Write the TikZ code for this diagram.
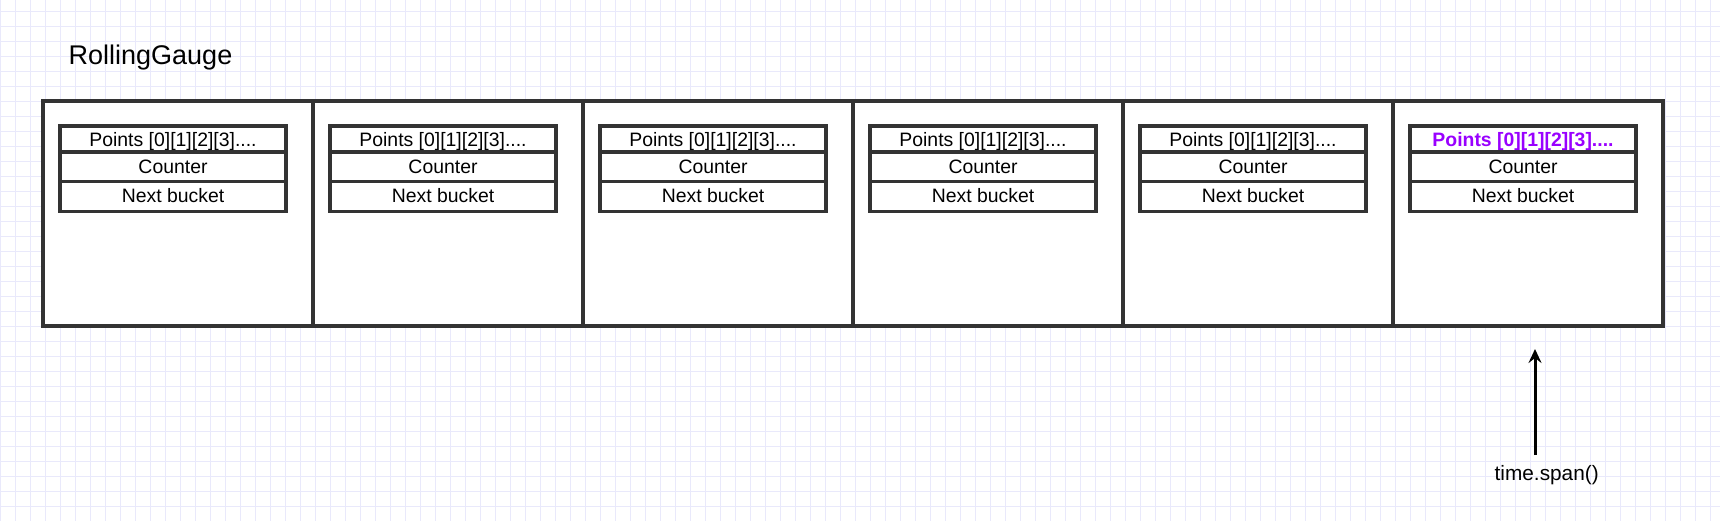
\documentclass[tikz,border=0pt]{standalone}
\usepackage{fontspec}
\setmainfont{Liberation Sans}
\usetikzlibrary{arrows.meta}
\definecolor{gridc}{HTML}{E9E9FB}
\definecolor{strokec}{HTML}{333333}
\definecolor{purp}{HTML}{9900FF}
\tikzset{
  cellbox/.style={draw=strokec, line width=3.3pt},
  rowbox/.style={draw=strokec, line width=3.1pt},
  rowtext/.style={anchor=base, inner sep=0pt, font=\fontsize{19.4}{19.4}\selectfont},
}
\begin{document}
\begin{tikzpicture}[x=1pt,y=-1pt]
\useasboundingbox (0,0) rectangle (1720,521);
\fill[white] (0,0) rectangle (1720,521);
% grid
\foreach \i in {0,...,114} {
  \draw[gridc, line width=1.5pt] ({0.7+15*\i},0) -- ({0.7+15*\i},521);
}
\foreach \j in {0,...,34} {
  \draw[gridc, line width=1.5pt] (0,{11.5+15*\j}) -- (1720,{11.5+15*\j});
}
% title
\node[anchor=base west, inner sep=0pt, font=\fontsize{27}{27}\selectfont] (title) at (68.5,65) {RollingGauge};
% cells
\foreach \k in {0,...,5} {
  \pgfmathsetmacro{\xl}{43+270*\k}
  \fill[white] (\xl,101) rectangle ({\xl+270},326);
  \draw[cellbox] (\xl,101) rectangle ({\xl+270},326);
  \coordinate (c\k) at ({\xl+17},126);
  \draw[rowbox, fill=white] ({\xl+17},126) rectangle ({\xl+243},211.5);
  \draw[rowbox] ({\xl+17},152) -- ({\xl+243},152);
  \draw[rowbox] ({\xl+17},181.5) -- ({\xl+243},181.5);
  \ifnum\k<5
    \node[rowtext] (p\k) at ({\xl+130},146.7) {Points [0][1][2][3]....};
  \else
    \node[rowtext, text=purp, font=\fontsize{19.4}{19.4}\selectfont\bfseries] (p\k) at ({\xl+130},146.7) {Points [0][1][2][3]....};
  \fi
  \node[rowtext] (cn\k) at ({\xl+130},173.3) {Counter};
  \node[rowtext] (nb\k) at ({\xl+130},202.7) {Next bucket};
}
% arrow
\node[anchor=base, inner sep=0pt, font=\fontsize{20.8}{20.8}\selectfont] (ts) at (1546.7,480) {time.span()};
\coordinate (tip) at (1535,349);
\coordinate (tail) at (1535,455);
\draw[black, line width=3pt, -{Stealth[length=14pt,width=13pt,inset=5pt]}] (tail) -- (tip);
\end{tikzpicture}
\end{document}
